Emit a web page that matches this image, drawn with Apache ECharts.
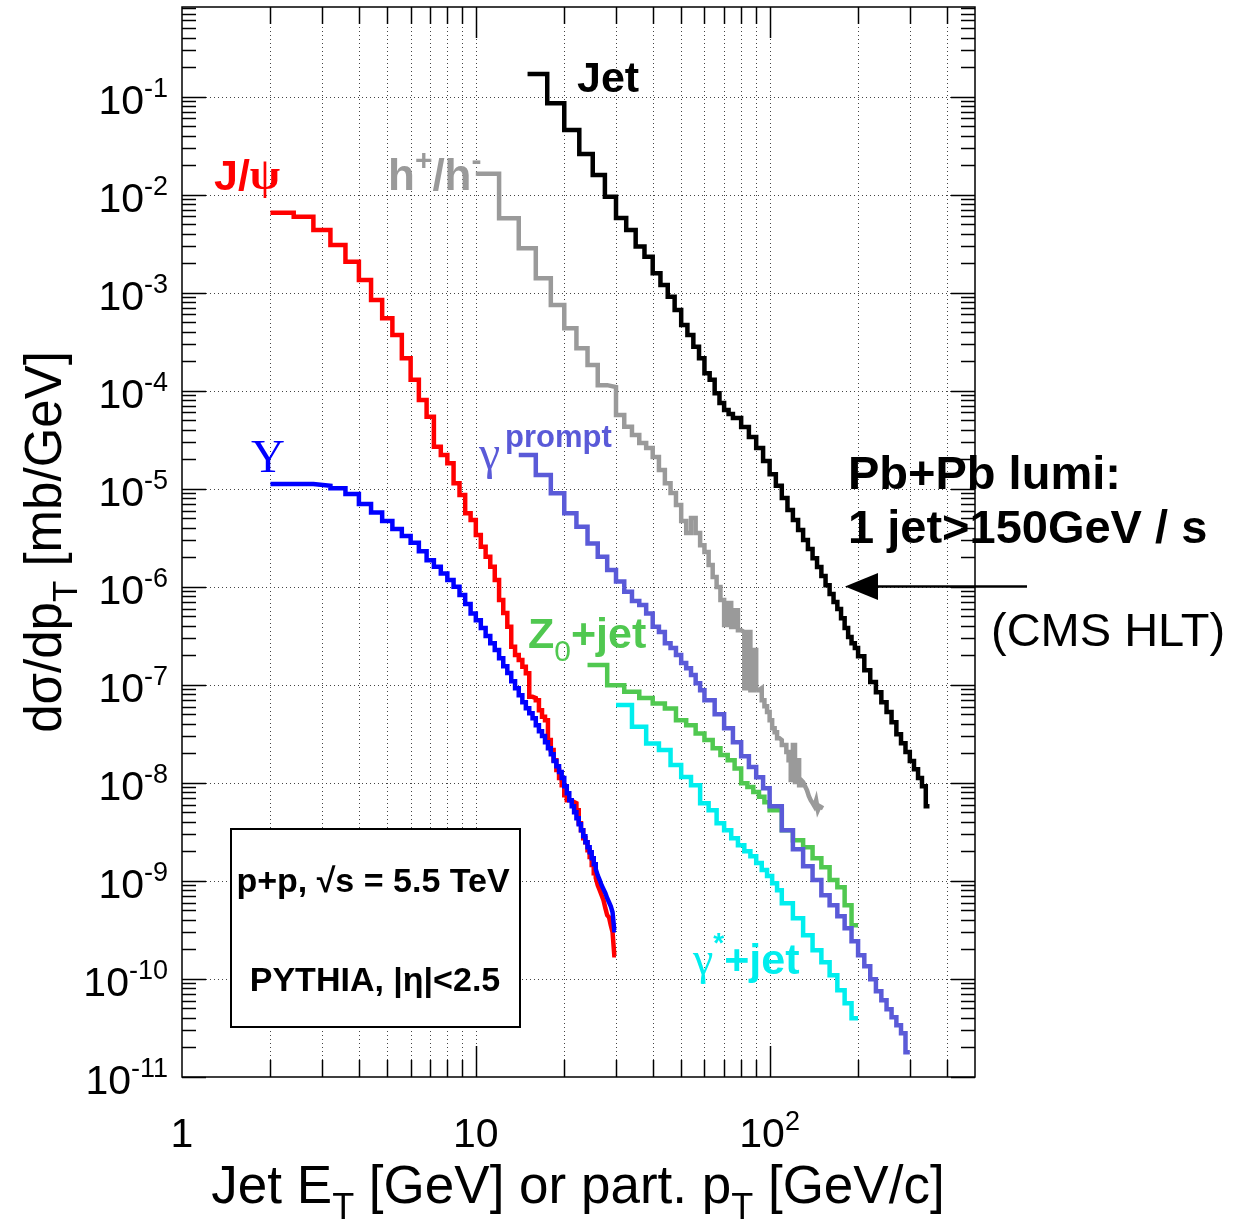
<!DOCTYPE html>
<html><head><meta charset="utf-8">
<script src="https://cdn.jsdelivr.net/npm/echarts@6/dist/echarts.min.js"></script>
<style>html,body{margin:0;padding:0;background:#fff}#c{width:1236px;height:1227px}</style>
</head><body><div id="c"></div>
<script>
const F = '"Liberation Sans", Arial, Helvetica, sans-serif';
const FS = '"Liberation Serif", "Times New Roman", serif';

// ---------------- data (bin edges + bin contents) ----------------
const jetEdges = [15,17.5,20,22.5,25,27.5,30,32.5,35,37.5,40,42.5,45,47.5,50,52.5,55,57.5,60,62.5,65,67.5,70,72.5,75,80,85,90,95,100,105,110,115,120,125,130,135,140,145,150,155,160,165,170,175,180,185,190,195,200,210,220,230,240,250,260,270,280,290,300,310,320,330,340,350];
const jetVals = [1.70e-1,8.57e-2,4.57e-2,2.60e-2,1.59e-2,9.54e-3,5.78e-3,4.36e-3,2.95e-3,2.33e-3,1.58e-3,1.20e-3,9.10e-4,6.66e-4,4.68e-4,3.70e-4,2.81e-4,2.14e-4,1.51e-4,1.29e-4,9.41e-5,7.49e-5,6.36e-5,5.78e-5,
  5.27e-5,4.26e-5,3.37e-5,2.60e-5,1.92e-5,1.41e-5,1.07e-5,8.04e-6,6.06e-6,4.79e-6,3.79e-6,3.00e-6,2.43e-6,1.96e-6,1.59e-6,1.29e-6,1.04e-6,8.42e-7,6.98e-7,5.92e-7,4.79e-7,3.79e-7,3.07e-7,2.66e-7,2.37e-7,
  1.96e-7,1.41e-7,1.07e-7,8.42e-8,6.66e-8,5.27e-8,4.16e-8,3.14e-8,2.54e-8,2.06e-8,1.67e-8,1.38e-8,1.12e-8,9.25e-9,5.78e-9];

const hadEdges = [10,12,14,16,18,20,22,24,26,28,30,32,34,36,38,40,42,44,46,48,50,52,54,56,58,60,62,64,66,68,70,72,74,76,78,80,82,84,86,88,90,92,94,96,98,100,102,104,106,108,110,112,114,116,118,120,122,124,126,128,130,132,134,136,138,140,142,144,146,148,150,152];
const hadVals = [1.63e-2,5.74e-3,2.84e-3,1.40e-3,7.49e-4,4.33e-4,2.71e-4,1.83e-4,1.14e-4,1.09e-4,5.65e-5,4.29e-5,3.53e-5,2.93e-5,2.60e-5,2.11e-5,1.55e-5,1.14e-5,9.04e-6,6.82e-6,
  4.68e-6,3.53e-6,5.02e-6,3.53e-6,2.66e-6,2.26e-6,1.67e-6,1.26e-6,9.93e-7,7.32e-7,4.07e-7,6.82e-7,3.88e-7,5.78e-7,3.61e-7,3.45e-7,9.25e-8,3.45e-7,8.83e-8,2.26e-7,
  8.83e-8,9.25e-8,6.98e-8,6.06e-8,5.27e-8,4.36e-8,3.61e-8,3.29e-8,2.86e-8,2.73e-8,2.43e-8,2.43e-8,2.06e-8,1.70e-8,1.07e-8,2.43e-8,1.02e-8,1.70e-8,9.47e-9,1.07e-8,
  1.02e-8,9.25e-9,8.42e-9,7.32e-9,6.66e-9,6.21e-9,5.78e-9,6.66e-9,5.27e-9,5.78e-9,5.52e-9];

const oniaEdges = [2,2.4,2.8,3.2,3.6,4,4.4,4.8,5.2,5.6,6,6.4,6.8,7.2,7.6,8,8.4,8.8,9.2,9.6,10,10.4,10.8,11.2,11.6,12,12.4,12.8,13.2,13.6,14,14.4,14.8,15.2,15.6,16,16.4,16.8,17.2,17.6,18,18.4,18.8,19.2,19.6,20,20.4,20.8,21.2,21.6,22,22.4,22.8,23.2,23.6,24,24.4,24.8,25.2,25.6,26,26.4,26.8,27.2,27.6,28,28.4,28.8,29.2,29.6,30];
const jpsiVals = [6.55e-3,5.96e-3,4.36e-3,3.07e-3,2.07e-3,1.35e-3,8.42e-4,5.48e-4,3.70e-4,2.14e-4,1.29e-4,8.04e-5,5.43e-5,2.68e-5,2.21e-5,1.82e-5,1.14e-5,8.62e-6,5.61e-6,4.79e-6,
  3.37e-6,2.56e-6,2.02e-6,1.60e-6,1.17e-6,7.32e-7,5.39e-7,3.91e-7,2.44e-7,2.01e-7,1.79e-7,1.53e-7,1.31e-7,7.54e-8,7.32e-8,6.98e-8,5.52e-8,4.72e-8,4.36e-8,2.73e-8,
  2.16e-8,1.70e-8,1.35e-8,1.12e-8,9.47e-9,7.49e-9,6.66e-9,6.66e-9,6.36e-9,6.21e-9,5.27e-9,3.88e-9,3.29e-9,2.73e-9,2.48e-9,2.06e-9,1.75e-9,1.45e-9,1.20e-9,1.07e-9,
  9.04e-10,8.04e-10,7.15e-10,6.36e-10,5.27e-10,4.47e-10,4.26e-10,3.53e-10,3.00e-10,1.75e-10];
const upsVals = [1.12e-5,1.12e-5,1.07e-5,1.01e-5,8.83e-6,6.98e-6,5.72e-6,4.68e-6,3.88e-6,3.29e-6,2.82e-6,2.31e-6,1.87e-6,1.60e-6,1.37e-6,1.17e-6,1.00e-6,8.23e-7,6.66e-7,5.35e-7,
  4.57e-7,3.79e-7,3.14e-7,2.66e-7,2.26e-7,1.87e-7,1.55e-7,1.32e-7,1.09e-7,9.25e-8,7.85e-8,6.66e-8,5.78e-8,5.14e-8,4.57e-8,3.88e-8,3.37e-8,3.00e-8,2.60e-8,2.26e-8,
  1.96e-8,1.67e-8,1.48e-8,1.29e-8,1.12e-8,9.25e-9,7.85e-9,6.66e-9,5.78e-9,5.02e-9,4.36e-9,3.79e-9,3.29e-9,2.86e-9,2.48e-9,2.21e-9,1.96e-9,1.70e-9,1.48e-9,1.32e-9,
  1.14e-9,1.02e-9,9.04e-10,8.23e-10,7.49e-10,6.66e-10,6.06e-10,5.52e-10,4.79e-10,3.14e-10];

const gamEdges = [14,16,18,20,22,24,26,28,30,32,34,36,38,40,42,44,46,48,50,52,54,56,58,60,65,70,75,80,85,90,95,100,110,120,130,140,150,160,170,180,190,200,210,220,230,240,250,260,270,280,290,300];
const gamVals = [2.21e-5,1.38e-5,8.98e-6,5.61e-6,4.09e-6,2.77e-6,2.02e-6,1.48e-6,1.13e-6,8.89e-7,7.15e-7,6.51e-7,5.35e-7,3.91e-7,3.45e-7,2.66e-7,2.37e-7,2.01e-7,1.67e-7,1.48e-7,1.26e-7,1.04e-7,8.83e-8,
  6.98e-8,5.02e-8,3.61e-8,2.60e-8,1.87e-8,1.45e-8,1.14e-8,8.83e-9,
  5.78e-9,3.29e-9,2.11e-9,1.41e-9,1.02e-9,7.15e-10,5.65e-10,4.36e-10,3.29e-10,2.43e-10,1.75e-10,1.35e-10,9.93e-11,7.49e-11,6.06e-11,4.91e-11,4.07e-11,3.37e-11,2.79e-11,1.79e-11];

const zEdges = [24,28,32,36,40,44,48,52,56,60,64,68,72,76,80,84,88,92,96,100,110,120,130,140,150,160,170,180,190,200];
const zVals = [1.59e-7,9.93e-8,8.48e-8,7.32e-8,6.46e-8,5.74e-8,4.36e-8,3.88e-8,3.19e-8,2.73e-8,2.26e-8,1.92e-8,1.70e-8,1.40e-8,9.93e-9,9.10e-9,8.09e-9,7.20e-9,6.36e-9,
  5.27e-9,3.29e-9,2.60e-9,2.21e-9,1.70e-9,1.38e-9,1.02e-9,8.62e-10,5.65e-10,3.53e-10];

const gsEdges = [30,34,38,42,46,50,54,58,62,66,70,74,78,82,86,90,94,98,102,106,110,120,130,140,150,160,170,180,190,200];
const gsVals = [6.21e-8,3.73e-8,2.52e-8,2.16e-8,1.52e-8,1.15e-8,9.47e-9,6.21e-9,5.27e-9,3.88e-9,3.29e-9,2.73e-9,2.31e-9,2.01e-9,1.79e-9,1.52e-9,1.29e-9,1.12e-9,9.47e-10,8.04e-10,
  5.92e-10,4.16e-10,2.79e-10,1.96e-10,1.48e-10,1.09e-10,7.67e-11,5.65e-11,3.97e-11];

// axis ticks
const xTickVals = [2,3,4,5,6,7,8,9,10,20,30,40,50,60,70,80,90,100,200,300,400];
const xMajorVals = [10,100];
const xLabelExp = [0,1,2];
const yLabelExp = [-11,-10,-9,-8,-7,-6,-5,-4,-3,-2,-1];
const yMinorMult = [2,3,4,5,6,7,8,9];
const X_MIN = 1, X_MAX = 500, Y_MIN = 1e-11, Y_MAX = 0.82;

// ---------------- chart ----------------
function stepData(edges, vals) {
  const d = vals.map((v, i) => [edges[i], v]);
  d.push([edges[vals.length], vals[vals.length - 1]]);
  return d;
}
function hist(name, edges, vals, color, z) {
  return { name, type: 'line', step: 'end', data: stepData(edges, vals), symbol: 'none', showSymbol: false,
    lineStyle: { color, width: 4.5, join: 'miter', cap: 'butt' }, itemStyle: { color }, z, silent: true, clip: true };
}

function renderFrame(params, api) {
  const cs = params.coordSys;
  const L = cs.x, T = cs.y, R = cs.x + cs.width, B = cs.y + cs.height;
  const ch = [];
  const dotted = { stroke: '#444', lineWidth: 1, lineDash: [1, 3] };
  const tick = { stroke: '#000', lineWidth: 1.5 };
  xTickVals.forEach(v => {
    const x = Math.round(api.coord([v, 1e-5])[0]) + 0.5;
    ch.push({ type: 'line', shape: { x1: x, y1: T, x2: x, y2: B }, style: dotted });
    const len = xMajorVals.indexOf(v) >= 0 ? 31 : 17;
    ch.push({ type: 'line', shape: { x1: x, y1: B, x2: x, y2: B - len }, style: tick });
    ch.push({ type: 'line', shape: { x1: x, y1: T, x2: x, y2: T + len }, style: tick });
  });
  yLabelExp.forEach(e => {
    const y = Math.round(api.coord([1, Math.pow(10, e)])[1]) + 0.5;
    if (e > -11) ch.push({ type: 'line', shape: { x1: L, y1: y, x2: R, y2: y }, style: dotted });
    ch.push({ type: 'line', shape: { x1: L, y1: y, x2: L + 24, y2: y }, style: tick });
    ch.push({ type: 'line', shape: { x1: R, y1: y, x2: R - 24, y2: y }, style: tick });
    yMinorMult.forEach(k => {
      const v = k * Math.pow(10, e);
      if (v >= Y_MAX) return;
      const yy = Math.round(api.coord([1, v])[1]) + 0.5;
      ch.push({ type: 'line', shape: { x1: L, y1: yy, x2: L + 14, y2: yy }, style: tick });
      ch.push({ type: 'line', shape: { x1: R, y1: yy, x2: R - 14, y2: yy }, style: tick });
    });
    ch.push({ type: 'text', x: L - 14, y: y + 5, style: {
      text: '{b|10}{s|' + e + '}', align: 'right', verticalAlign: 'middle', textAlign: 'right', textVerticalAlign: 'middle',
      rich: { b: { fontSize: 41, fontFamily: F, lineHeight: 41, fill: '#000' },
              s: { fontSize: 27, fontFamily: F, lineHeight: 27, padding: [0, 0, 26, 0], fill: '#000' } } } });
  });
  xLabelExp.forEach(e => {
    const x = api.coord([Math.pow(10, e), 1e-5])[0];
    const txt = e === 0 ? '{b|1}' : e === 1 ? '{b|10}' : '{b|10}{s|' + e + '}';
    ch.push({ type: 'text', x: x, y: B + 59, style: {
      text: txt, align: 'center', verticalAlign: 'middle', textAlign: 'center', textVerticalAlign: 'middle',
      rich: { b: { fontSize: 41, fontFamily: F, lineHeight: 41, fill: '#000' },
              s: { fontSize: 27, fontFamily: F, lineHeight: 27, padding: [0, 0, 26, 0], fill: '#000' } } } });
  });
  ch.push({ type: 'rect', shape: { x: L, y: T, width: R - L, height: B - T }, style: { fill: 'none', stroke: '#000', lineWidth: 1.5 } });
  return { type: 'group', children: ch };
}

const chart = echarts.init(document.getElementById('c'), null, { renderer: 'canvas' });
const option = {
  animation: false,
  backgroundColor: '#fff',
  grid: { left: 182, top: 7, right: 261, bottom: 150, containLabel: false },
  xAxis: { type: 'log', logBase: 10, min: X_MIN, max: X_MAX,
    axisLine: { show: false }, axisTick: { show: false }, axisLabel: { show: false }, splitLine: { show: false }, minorTick: { show: false } },
  yAxis: { type: 'log', logBase: 10, min: Y_MIN, max: Y_MAX,
    axisLine: { show: false }, axisTick: { show: false }, axisLabel: { show: false }, splitLine: { show: false }, minorTick: { show: false } },
  series: [
    { type: 'custom', coordinateSystem: 'cartesian2d', renderItem: renderFrame, data: [[1, 1e-5]], silent: true, z: 1 },
    hist('Jet', jetEdges, jetVals, '#000000', 3),
    hist('h+/h-', hadEdges, hadVals, '#9a9a9a', 3),
    hist('J/psi', oniaEdges, jpsiVals, '#ff0000', 3),
    hist('Upsilon', oniaEdges, upsVals, '#0000ff', 4),
    hist('Z0+jet', zEdges, zVals, '#50c850', 3),
    hist('gamma prompt', gamEdges, gamVals, '#5a5ad8', 4),
    hist('gamma*+jet', gsEdges, gsVals, '#00eeee', 3)
  ],
  graphic: [
    { type: 'text', x: 577, y: 80, z: 10, style: { text: 'Jet', font: 'bold 43px ' + F, fill: '#000', verticalAlign: 'middle', textVerticalAlign: 'middle' } },
    { type: 'text', x: 214, y: 178, z: 10, style: { text: '{a|J/}{p|ψ}', verticalAlign: 'middle', textVerticalAlign: 'middle',
        rich: { a: { fontSize: 43, fontWeight: 'bold', fontFamily: F, lineHeight: 43, fill: '#ff0000' },
                p: { fontSize: 44, fontWeight: 'bold', fontFamily: FS, lineHeight: 44, fill: '#ff0000' } } } },
    { type: 'text', x: 388, y: 178, z: 10, style: { text: '{a|h}{s|+}{a|/h}{s|-}', verticalAlign: 'middle', textVerticalAlign: 'middle',
        rich: { a: { fontSize: 44, fontWeight: 'bold', fontFamily: F, lineHeight: 44, fill: '#9a9a9a' },
                s: { fontSize: 30, fontWeight: 'bold', fontFamily: F, lineHeight: 30, padding: [0, 0, 32, 0], fill: '#9a9a9a' } } } },
    { type: 'text', x: 251, y: 460, z: 10, style: { text: 'Υ', font: '47px ' + FS, fill: '#0000ff', verticalAlign: 'middle', textVerticalAlign: 'middle' } },
    { type: 'text', x: 479, y: 456, z: 10, style: { text: 'γ', font: '48px ' + FS, fill: '#5a5ad8', verticalAlign: 'middle', textVerticalAlign: 'middle' } },
    { type: 'text', x: 505, y: 438, z: 10, style: { text: 'prompt', font: 'bold 31px ' + F, fill: '#5a5ad8', verticalAlign: 'middle', textVerticalAlign: 'middle' } },
    { type: 'text', x: 528, y: 636, z: 10, style: { text: '{a|Z}{s|0}{a|+jet}', verticalAlign: 'middle', textVerticalAlign: 'middle',
        rich: { a: { fontSize: 43, fontWeight: 'bold', fontFamily: F, lineHeight: 43, fill: '#50c850' },
                s: { fontSize: 30, fontFamily: F, lineHeight: 30, padding: [34, 0, 0, 0], fill: '#50c850' } } } },
    { type: 'text', x: 693, y: 962, z: 10, style: { text: '{g|γ}{s|*}{a|+jet}', verticalAlign: 'middle', textVerticalAlign: 'middle',
        rich: { g: { fontSize: 46, fontFamily: FS, lineHeight: 46, fill: '#00eeee' },
                a: { fontSize: 43, fontWeight: 'bold', fontFamily: F, lineHeight: 43, fill: '#00eeee' },
                s: { fontSize: 28, fontWeight: 'bold', fontFamily: F, lineHeight: 28, padding: [0, 0, 36, 0], fill: '#00eeee' } } } },
    { type: 'text', x: 848, y: 476, z: 10, style: { text: 'Pb+Pb lumi:', font: 'bold 47px ' + F, fill: '#000', verticalAlign: 'middle', textVerticalAlign: 'middle' } },
    { type: 'text', x: 848, y: 530, z: 10, style: { text: '1 jet>150GeV / s', font: 'bold 47px ' + F, fill: '#000', verticalAlign: 'middle', textVerticalAlign: 'middle' } },
    { type: 'text', x: 991, y: 633, z: 10, style: { text: '(CMS HLT)', font: '47px ' + F, fill: '#000', verticalAlign: 'middle', textVerticalAlign: 'middle' } },
    { type: 'line', z: 10, shape: { x1: 1027, y1: 586.5, x2: 872, y2: 586.5 }, style: { stroke: '#000', lineWidth: 2.5 } },
    { type: 'polygon', z: 10, shape: { points: [[845, 586.5], [878, 573], [878, 600]] }, style: { fill: '#000' } },
    { type: 'rect', z: 10, shape: { x: 231, y: 829, width: 289, height: 198 }, style: { fill: '#fff', stroke: '#000', lineWidth: 2 } },
    { type: 'text', x: 373, y: 883, z: 11, style: { text: 'p+p, √s = 5.5 TeV', font: 'bold 34px ' + F, fill: '#000', align: 'center', textAlign: 'center', verticalAlign: 'middle', textVerticalAlign: 'middle' } },
    { type: 'text', x: 375, y: 982, z: 11, style: { text: 'PYTHIA, |η|<2.5', font: 'bold 34px ' + F, fill: '#000', align: 'center', textAlign: 'center', verticalAlign: 'middle', textVerticalAlign: 'middle' } },
    { type: 'text', x: 578, y: 1188, z: 10, style: { text: '{a|Jet E}{s|T}{a| [GeV] or part. p}{s|T}{a| [GeV/c]}', align: 'center', textAlign: 'center', verticalAlign: 'middle', textVerticalAlign: 'middle',
        rich: { a: { fontSize: 53, fontFamily: F, lineHeight: 53, fill: '#000' },
                s: { fontSize: 36, fontFamily: F, lineHeight: 36, padding: [42, 0, 0, 0], fill: '#000' } } } },
    { type: 'text', x: 47, y: 542, rotation: Math.PI / 2, z: 10, style: { text: '{a|dσ/dp}{s|T}{a| [mb/GeV]}', align: 'center', textAlign: 'center', verticalAlign: 'middle', textVerticalAlign: 'middle',
        rich: { a: { fontSize: 51, fontFamily: F, lineHeight: 51, fill: '#000' },
                s: { fontSize: 35, fontFamily: F, lineHeight: 35, padding: [40, 0, 0, 0], fill: '#000' } } } }
  ]
};
chart.setOption(option);
</script>
</body></html>
